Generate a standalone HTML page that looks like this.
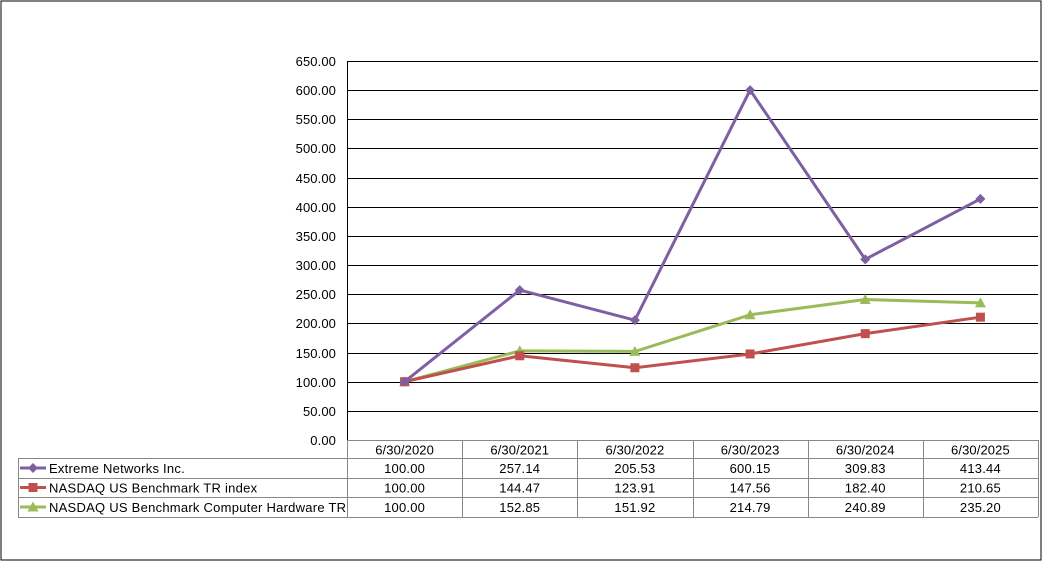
<!DOCTYPE html>
<html><head><meta charset="utf-8"><style>
body{margin:0;background:#fff;}
svg{display:block;font-family:"Liberation Sans",Arial,sans-serif;}
</style></head><body>
<svg id="chart" width="1043" height="563">
<rect x="1" y="1" width="1040" height="559" fill="#fff" stroke="#000" stroke-width="1"/>
<g id="grid"></g><g id="ylabels"></g><g id="table"></g><g id="series"></g>
</svg>
<script>
const categories=["6/30/2020","6/30/2021","6/30/2022","6/30/2023","6/30/2024","6/30/2025"];
const seriesNames=["Extreme Networks Inc.","NASDAQ US Benchmark TR index","NASDAQ US Benchmark Computer Hardware TR"];
const extreme=[100.00,257.14,205.53,600.15,309.83,413.44];
const nasdaq=[100.00,144.47,123.91,147.56,182.40,210.65];
const hardware=[100.00,152.85,151.92,214.79,240.89,235.20];
const yTicks=[0,50,100,150,200,250,300,350,400,450,500,550,600,650];
const colors=["#7e60a2","#c0504d","#9bbb59"];
const markers=["diamond","square","triangle"];
const NS="http://www.w3.org/2000/svg";
const x0=347,x1=1038,yTop=61,yBot=440,yMax=650;
const colW=(x1-x0)/categories.length;
const FS=13;
function xPos(i){return x0+colW*(i+0.5);}
function yPos(v){return yBot-(v/yMax)*(yBot-yTop);}
function mk(tag,attrs,parent){const e=document.createElementNS(NS,tag);for(const k in attrs)e.setAttribute(k,attrs[k]);parent.appendChild(e);return e;}
const grid=document.getElementById('grid'),yl=document.getElementById('ylabels'),tb=document.getElementById('table'),sg=document.getElementById('series');
yTicks.forEach(t=>{const y=Math.round(yPos(t))+0.5;
 if(t>0){const l=mk('line',{x1:x0,x2:x1,y1:y,y2:y,stroke:'#000','stroke-width':1},grid);
 
 }
 const tx=mk('text',{x:336,y:y+4.5,'text-anchor':'end','font-size':FS,fill:'#000','letter-spacing':0.1},yl);tx.textContent=t.toFixed(2);
 
 
});
const ax=mk('line',{x1:x0+0.5,x2:x0+0.5,y1:yTop,y2:yBot,stroke:'#000'},grid);


const rowsY=[440,458,478,497,517];
const gc='#888';
mk('line',{x1:x0,x2:x1,y1:440.5,y2:440.5,stroke:gc},tb);
for(let r=1;r<rowsY.length;r++){mk('line',{x1:18,x2:x1,y1:rowsY[r]+0.5,y2:rowsY[r]+0.5,stroke:gc},tb);}
mk('line',{x1:18.5,x2:18.5,y1:458,y2:517,stroke:gc},tb);
for(let i=0;i<=categories.length;i++){const x=Math.round(x0+colW*i)+0.5;mk('line',{x1:x,x2:x,y1:440,y2:517,stroke:gc},tb);}
categories.forEach((c,i)=>{const t=mk('text',{x:xPos(i),y:454.5,'text-anchor':'middle','font-size':FS,'letter-spacing':0.1},tb);t.textContent=c;
 
 });
const data=[extreme,nasdaq,hardware];
function marker(type,x,y,col,parent){
 if(type==='diamond')return mk('polygon',{points:`${x},${y-5} ${x+5},${y} ${x},${y+5} ${x-5},${y}`,fill:col},parent);
 if(type==='square')return mk('rect',{x:x-4.5,y:y-4.5,width:9,height:9,fill:col},parent);
 return mk('polygon',{points:`${x},${y-5.5} ${x+5.5},${y+4.5} ${x-5.5},${y+4.5}`,fill:col},parent);
}
data.forEach((arr,s)=>{
 const ry=(rowsY[s+1]+rowsY[s+2])/2;
 mk('line',{x1:20,x2:46,y1:ry,y2:ry,stroke:colors[s],'stroke-width':3},tb);
 marker(markers[s],33,ry,colors[s],tb);
 const nm=mk('text',{x:49,y:ry+5,'font-size':FS,'letter-spacing':0.25},tb);nm.textContent=seriesNames[s];
 
 
 arr.forEach((v,i)=>{const t=mk('text',{x:xPos(i),y:ry+5,'text-anchor':'middle','font-size':FS,'letter-spacing':0.2},tb);t.textContent=v.toFixed(2);
  
  });
});
[2,1,0].forEach(s=>{const arr=data[s];
 const pts=arr.map((v,i)=>xPos(i)+','+yPos(v)).join(' ');
 const pl=mk('polyline',{points:pts,fill:'none',stroke:colors[s],'stroke-width':3,'stroke-linejoin':'round'},sg);
 
 
 arr.forEach((v,i)=>{const m=marker(markers[s],xPos(i),yPos(v),colors[s],sg);
  
  });
});
</script>
</body></html>
